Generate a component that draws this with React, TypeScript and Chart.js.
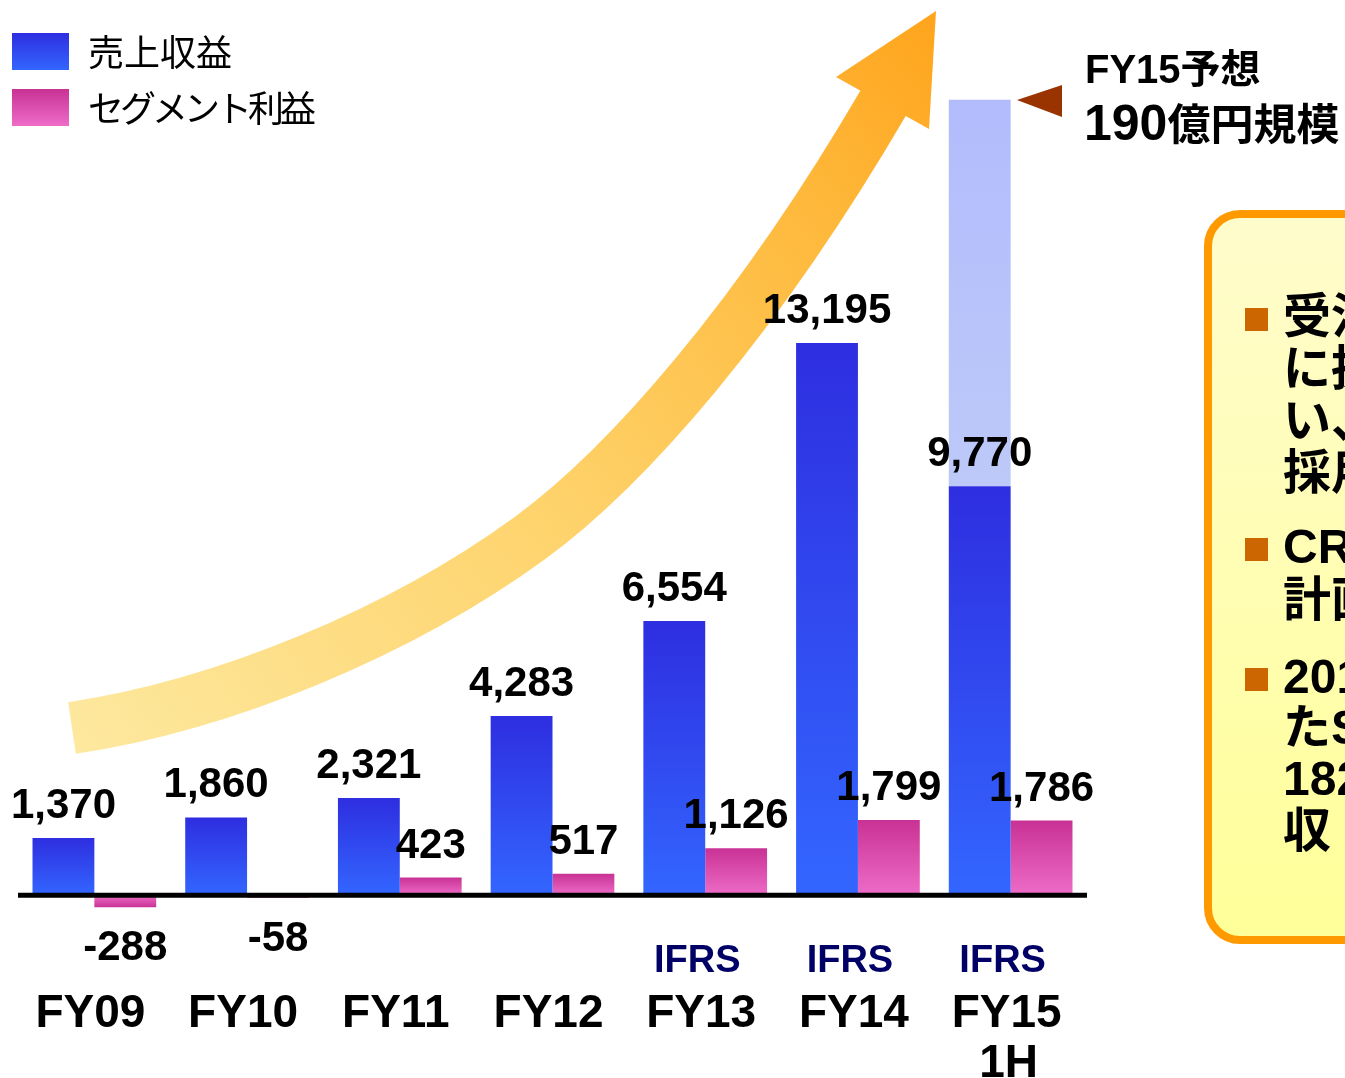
import React, { useEffect, useRef } from "react";
import { Chart, registerables } from "chart.js";

Chart.register(...registerables);

// ---- data ----
const categories = ["FY09", "FY10", "FY11", "FY12", "FY13", "FY14", "FY15"];
const subLabels = ["", "", "", "", "", "", "1H"];
const ifrsFlags = [false, false, false, false, true, true, true];
const sales = [1370, 1860, 2321, 4283, 6554, 13195, 9770];
const profit = [-288, -58, 423, 517, 1126, 1799, 1786];
const forecastTotal = [null, null, null, null, null, null, 19000];
const legendLabels = ["売上収益", "セグメント利益"];
const forecastTitle = "FY15予想";
const forecastNumber = "190";
const forecastUnit = "億円規模";
const boxBullets = [
  ["受注の増加", "に拡大に伴", "い、人員を", "採用"],
  ["CRO事業は", "計画通り"],
  ["2014年に", "たSMO", "182億円", "収"],
];

const LATIN = "'Liberation Sans', Arial, 'Noto Sans CJK JP', sans-serif";
const CJK = "'Noto Sans CJK JP', 'Liberation Sans', sans-serif";

const fmt = (v: number) => v.toLocaleString("en-US");

function vGrad(chart: any, yTop: number, yBot: number, cTop: string, cBot: string) {
  const g = chart.ctx.createLinearGradient(0, yTop, 0, yBot);
  g.addColorStop(0, cTop);
  g.addColorStop(1, cBot);
  return g;
}

const overlay = {
  id: "overlay",
  beforeDatasetsDraw(chart: any) {
    const ctx = chart.ctx;
    // decorative growth arrow behind the bars
    ctx.save();
    const g = ctx.createLinearGradient(72, 728, 935, 12);
    g.addColorStop(0, "#FDE89E");
    g.addColorStop(0.45, "#FED36C");
    g.addColorStop(0.8, "#FEB93C");
    g.addColorStop(1, "#FFA41C");
    ctx.strokeStyle = g;
    ctx.fillStyle = g;
    ctx.lineWidth = 52;
    ctx.lineCap = "butt";
    ctx.beginPath();
    ctx.moveTo(72, 728);
    ctx.bezierCurveTo(225, 705, 401, 632, 530, 538);
    ctx.bezierCurveTo(627, 467, 758, 318, 885, 100);
    ctx.stroke();
    ctx.beginPath();
    ctx.moveTo(836, 77);
    ctx.lineTo(936, 11);
    ctx.lineTo(929, 129);
    ctx.closePath();
    ctx.fill();
    ctx.restore();
  },
  afterDatasetsDraw(chart: any) {
    const ctx = chart.ctx;
    const xs = chart.scales.x;
    const ys = chart.scales.y;
    const area = chart.chartArea;
    ctx.save();
    // axis line
    const y0 = ys.getPixelForValue(0);
    ctx.strokeStyle = "#000";
    ctx.lineWidth = 5;
    ctx.beginPath();
    ctx.moveTo(area.left, y0);
    ctx.lineTo(area.right, y0);
    ctx.stroke();

    // value labels
    ctx.fillStyle = "#000";
    ctx.font = `bold 42px ${LATIN}`;
    ctx.textAlign = "center";
    ctx.textBaseline = "alphabetic";
    const mS = chart.getDatasetMeta(0);
    mS.data.forEach((el: any, i: number) => {
      ctx.fillText(fmt(sales[i]), el.x, el.y - 20);
    });
    const mP = chart.getDatasetMeta(2);
    mP.data.forEach((el: any, i: number) => {
      const v = profit[i];
      if (v >= 0) ctx.fillText(fmt(v), el.x, el.y - 20);
      else ctx.fillText(fmt(v), el.x, Math.max(el.y, y0) + 53);
    });

    // category labels
    categories.forEach((c, i) => {
      const x = xs.getPixelForValue(i) - 4;
      ctx.fillStyle = "#000";
      ctx.font = `bold 46px ${LATIN}`;
      ctx.fillText(c, x, 1027);
      if (subLabels[i]) ctx.fillText(subLabels[i], x + 2, 1077);
      if (ifrsFlags[i]) {
        ctx.fillStyle = "#000066";
        ctx.font = `bold 38px ${LATIN}`;
        ctx.fillText("IFRS", x - 4, 972);
      }
    });

    // legend
    const legendColors = [
      ["#2E2EE0", "#3366FF"],
      ["#C83294", "#EE6CC8"],
    ];
    const legendTops = [33, 89];
    const legendSpacing = ["0px", "-4px"];
    legendLabels.forEach((t, i) => {
      const top = legendTops[i];
      ctx.fillStyle = vGrad(chart, top, top + 37, legendColors[i][0], legendColors[i][1]);
      ctx.fillRect(12, top, 57, 37);
      ctx.fillStyle = "#000";
      ctx.font = `36px ${CJK}`;
      ctx.textAlign = "left";
      ctx.textBaseline = "middle";
      (ctx as any).letterSpacing = legendSpacing[i];
      ctx.fillText(t, 88, top + 19);
      (ctx as any).letterSpacing = "0px";
    });

    // forecast annotation
    ctx.fillStyle = "#993300";
    ctx.beginPath();
    ctx.moveTo(1017, 100);
    ctx.lineTo(1062, 85);
    ctx.lineTo(1062, 117);
    ctx.closePath();
    ctx.fill();
    ctx.fillStyle = "#000";
    ctx.textAlign = "left";
    ctx.textBaseline = "alphabetic";
    ctx.font = `bold 40px ${LATIN}`;
    ctx.fillText(forecastTitle, 1085, 83);
    ctx.font = `bold 50px ${LATIN}`;
    ctx.fillText(forecastNumber, 1084, 140);
    const w = ctx.measureText(forecastNumber).width;
    ctx.font = `bold 43px ${CJK}`;
    ctx.fillText(forecastUnit, 1084 + w, 140);

    // right text box
    const bx = 1208, by = 214, bw = 260, bh = 726, r = 32;
    const bg = ctx.createLinearGradient(0, by, 0, by + bh);
    bg.addColorStop(0, "#FFFCCC");
    bg.addColorStop(1, "#FFFF99");
    ctx.beginPath();
    ctx.moveTo(bx + r, by);
    ctx.lineTo(bx + bw, by);
    ctx.lineTo(bx + bw, by + bh);
    ctx.lineTo(bx + r, by + bh);
    ctx.arcTo(bx, by + bh, bx, by + bh - r, r);
    ctx.lineTo(bx, by + r);
    ctx.arcTo(bx, by, bx + r, by, r);
    ctx.closePath();
    ctx.fillStyle = bg;
    ctx.fill();
    ctx.strokeStyle = "#FF9900";
    ctx.lineWidth = 8;
    ctx.stroke();

    const lineCenters = [
      [320, 372, 424, 476],
      [550, 603],
      [680, 731, 782, 834],
    ];
    ctx.textBaseline = "middle";
    boxBullets.forEach((lines, bi) => {
      const c0 = lineCenters[bi][0];
      ctx.fillStyle = "#CC6600";
      ctx.fillRect(1245, c0 - 12, 23, 23);
      ctx.fillStyle = "#000";
      ctx.font = `bold 48px ${LATIN}`;
      lines.forEach((ln, li) => {
        ctx.fillText(ln, 1283, lineCenters[bi][li]);
      });
    });
    ctx.restore();
  },
};

export default function App() {
  const ref = useRef<HTMLCanvasElement>(null);
  useEffect(() => {
    if (!ref.current) return;
    const forecastPart = forecastTotal.map((v, i) => (v == null ? null : v - sales[i]));
    const chart = new Chart(ref.current, {
      type: "bar",
      data: {
        labels: categories,
        datasets: [
          {
            label: legendLabels[0],
            data: sales,
            stack: "a",
            backgroundColor: (c: any) => {
              const ch = c.chart;
              if (!ch.chartArea || c.raw == null) return "#3050F0";
              const y = ch.scales.y;
              return vGrad(ch, y.getPixelForValue(c.raw), y.getPixelForValue(0), "#2E2EE0", "#3366FF");
            },
          },
          {
            label: "forecast",
            data: forecastPart,
            stack: "a",
            backgroundColor: (c: any) => {
              const ch = c.chart;
              if (!ch.chartArea || c.raw == null) return "#B6C2FB";
              const y = ch.scales.y;
              const i = c.dataIndex;
              return vGrad(ch, y.getPixelForValue(sales[i] + c.raw), y.getPixelForValue(sales[i]), "#B2BCFD", "#BDC9F8");
            },
          },
          {
            label: legendLabels[1],
            data: profit,
            stack: "b",
            backgroundColor: (c: any) => {
              const ch = c.chart;
              if (!ch.chartArea || c.raw == null) return "#DD50B0";
              const y = ch.scales.y;
              return vGrad(ch, y.getPixelForValue(c.raw), y.getPixelForValue(0), "#C83294", "#EE6CC8");
            },
          },
        ],
      },
      options: {
        responsive: false,
        animation: false,
        events: [],
        layout: { padding: { left: 18, right: 258, top: 58, bottom: 99 } },
        datasets: { bar: { categoryPercentage: 0.81, barPercentage: 1.0, borderWidth: 0 } },
        scales: {
          x: { display: false, stacked: true },
          y: { display: false, stacked: true, min: -2000, max: 20000 },
        },
        plugins: { legend: { display: false }, tooltip: { enabled: false } },
      },
      plugins: [overlay],
    });
    return () => chart.destroy();
  }, []);
  return (
    <div style={{ position: "absolute", left: 0, top: 0, width: 1345, height: 1078, background: "#fff" }}>
      <canvas ref={ref} width={1345} height={1078} style={{ display: "block" }} />
    </div>
  );
}
